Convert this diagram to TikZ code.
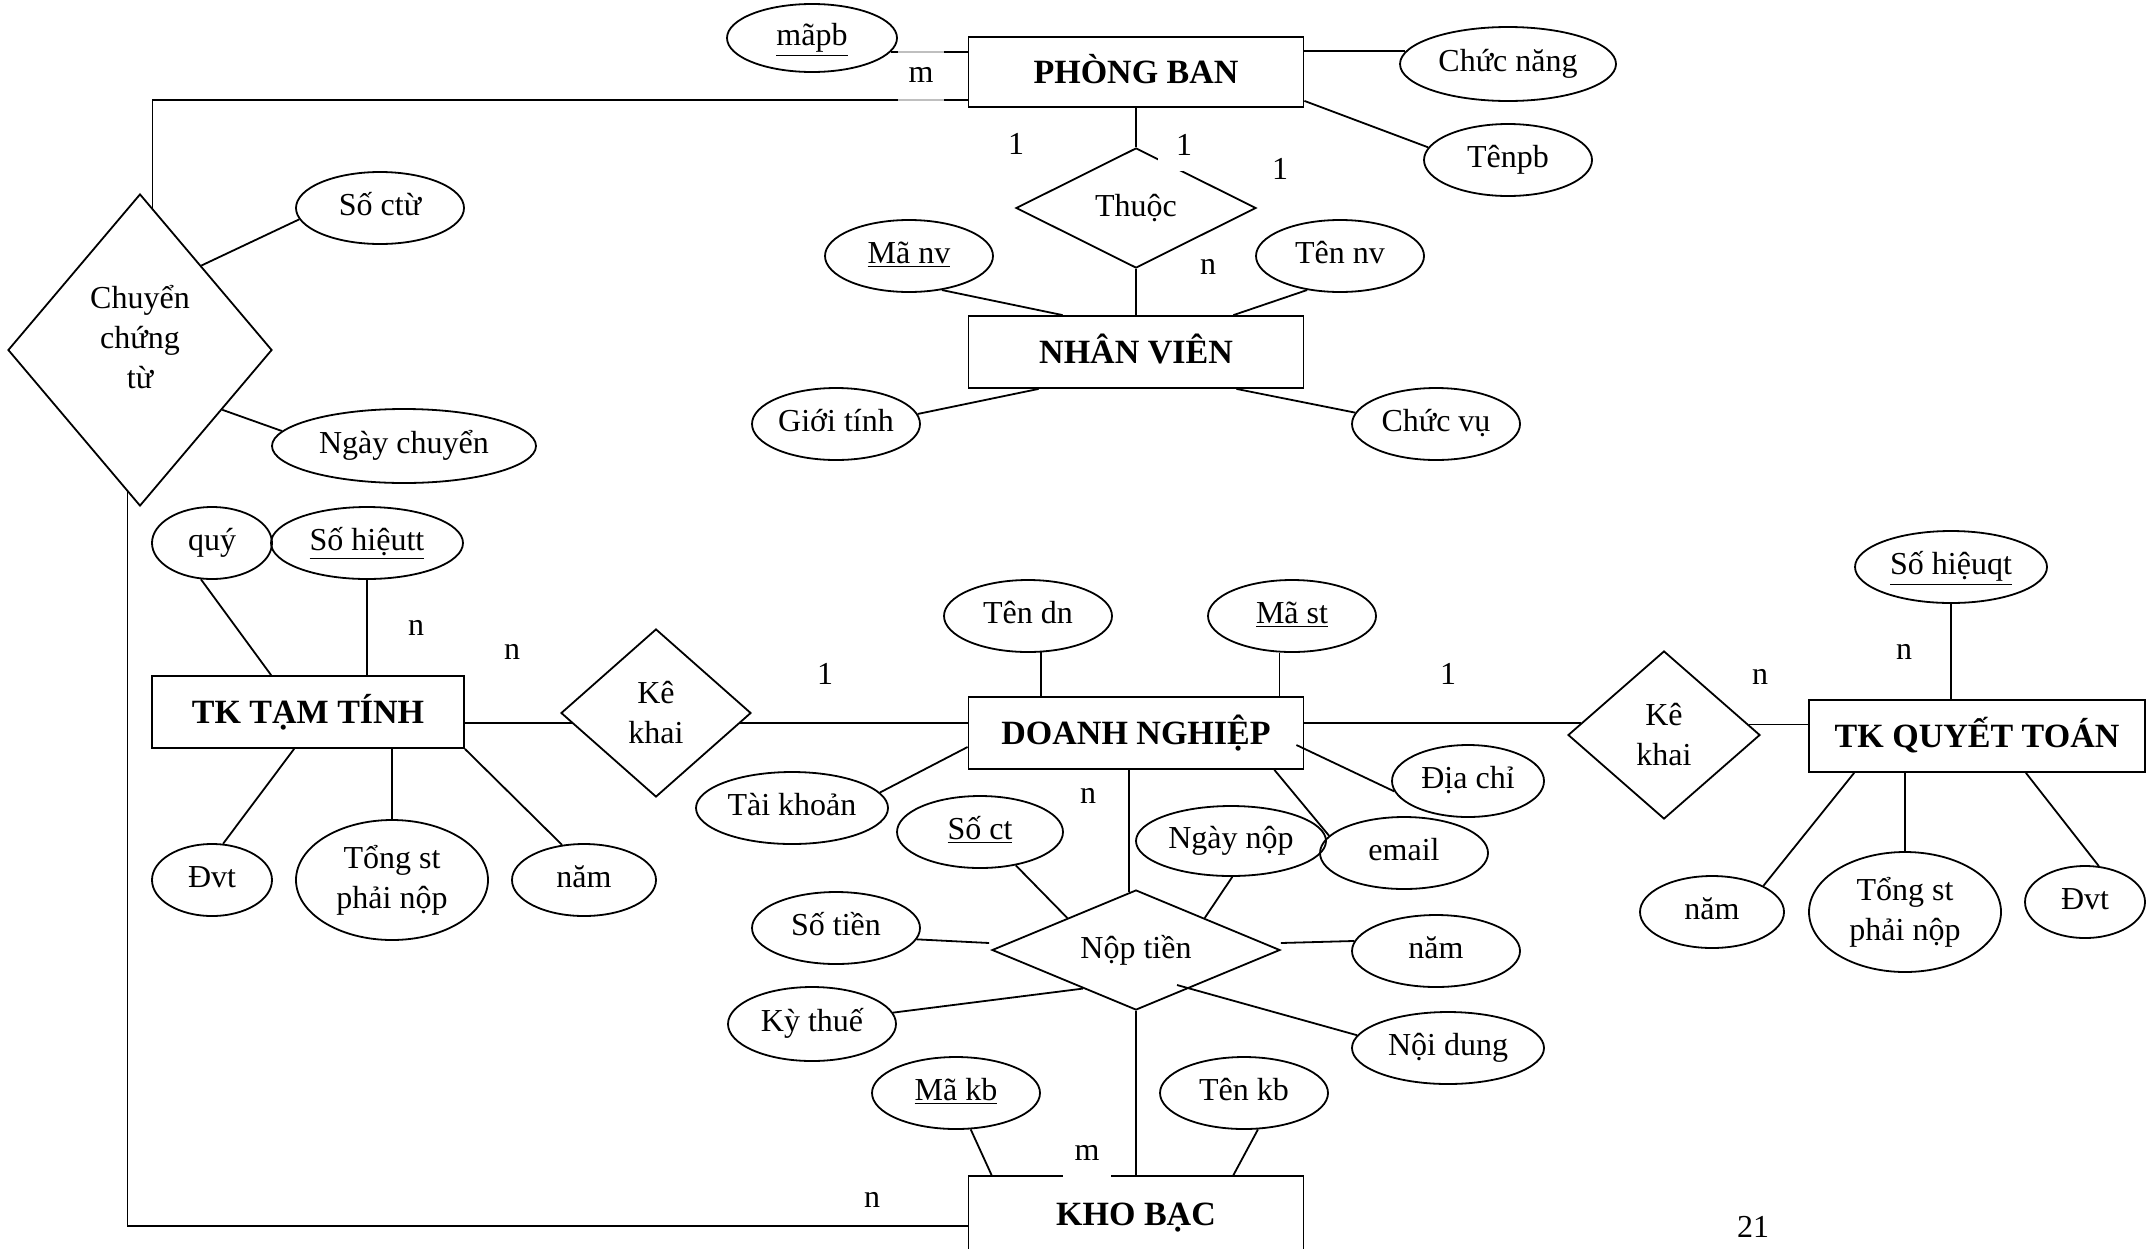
\documentclass[tikz,border=0pt]{standalone}
\usepackage{fontspec}
\setmainfont{Liberation Serif}
\usetikzlibrary{shapes.geometric,calc}
\begin{document}
\begin{tikzpicture}[x=0.5pt,y=-0.5pt,
  every node/.style={font=\fontsize{16}{20}\selectfont},
  lw/.style={line width=0.9pt},
  ent/.style={draw,lw,rectangle,inner sep=0pt,text height=11.3pt,text depth=0pt,font=\fontsize{17}{20}\selectfont\bfseries},
  attr/.style={draw,lw,ellipse,inner sep=0pt,align=center},
  attrone/.style={attr,text height=11pt,text depth=3.5pt},
  rel/.style={draw,lw,diamond,inner sep=0pt,align=center},
  card/.style={inner sep=0pt},
  link/.style={lw}]
\fill[white] (0,0) rectangle (2156,1248);
\useasboundingbox (0,0) rectangle (2156,1248);

% entities
\node[ent, minimum width=167.5pt, minimum height=35pt] (pb) at (1136,72) {PHÒNG BAN};
\node[ent, minimum width=167.5pt, minimum height=36pt] (nv) at (1136,352) {NHÂN VIÊN};
\node[ent, minimum width=167.5pt, minimum height=36pt] (dn) at (1136,733) {DOANH NGHIỆP};
\node[ent, minimum width=167.5pt, minimum height=38pt] (kb) at (1136,1214) {KHO BẠC};
\node[ent, minimum width=156pt, minimum height=36pt] (tkt) at (308,712) {TK TẠM TÍNH};
\node[ent, minimum width=168pt, minimum height=36pt] (tkqt) at (1977,736) {TK QUYẾT TOÁN};

% relationships
\node[rel, minimum width=132pt, minimum height=156pt] (cct) at (140,350) {};
\node[align=center] (cctt) at (140,337) {Chuyển\\chứng\\từ};
\node[rel, aspect=2, minimum width=120pt, minimum height=60pt] (thuoc) at (1136,208) {Thuộc};
\node[rel, minimum width=95pt, minimum height=84pt] (kkl) at (656,713) {Kê\\khai};
\node[rel, minimum width=96pt, minimum height=84pt] (kkr) at (1664,735) {Kê\\khai};
\node[rel, aspect=2.4, minimum width=144pt, minimum height=60pt] (npt) at (1136,950) {Nộp tiền};

% attributes
\node[attrone, minimum width=85pt, minimum height=34pt] (mapb) at (812,38) {\underline{mãpb}};
\node[attrone, minimum width=108pt, minimum height=37pt] (cn) at (1508,64) {Chức năng};
\node[attrone, minimum width=84pt, minimum height=36pt] (tpb) at (1508,160) {Tênpb};
\node[attrone, minimum width=84pt, minimum height=36pt] (manv) at (909,256) {\underline{Mã nv}};
\node[attrone, minimum width=84pt, minimum height=36pt] (tnv) at (1340,256) {Tên nv};
\node[attrone, minimum width=84pt, minimum height=36pt] (gt) at (836,424) {Giới tính};
\node[attrone, minimum width=84pt, minimum height=36pt] (cv) at (1436,424) {Chức vụ};
\node[attrone, minimum width=84pt, minimum height=36pt] (soctu) at (380,208) {Số ctừ};
\node[attrone, minimum width=132pt, minimum height=37pt] (ngc) at (404,446) {Ngày chuyển};
\node[attrone, minimum width=60pt, minimum height=36pt] (quy) at (212,543) {quý};
\node[attrone, minimum width=96pt, minimum height=36pt] (sht) at (367,543) {\underline{Số hiệutt}};
\node[attrone, minimum width=60pt, minimum height=36pt] (dvtl) at (212,880) {Đvt};
\node[attr, minimum width=96pt, minimum height=60pt] (tsl) at (392,880) {Tổng st\\phải nộp};
\node[attrone, minimum width=72pt, minimum height=36pt] (naml) at (584,880) {năm};
\node[attrone, minimum width=84pt, minimum height=36pt] (tdn) at (1028,616) {Tên dn};
\node[attrone, minimum width=84pt, minimum height=36pt] (mst) at (1292,616) {\underline{Mã st}};
\node[attrone, minimum width=96pt, minimum height=36pt] (tk) at (792,808) {Tài khoản};
\node[attrone, minimum width=76pt, minimum height=36pt] (dc) at (1468,781) {Địa chỉ};
\node[attrone, minimum width=84pt, minimum height=36pt] (email) at (1404,853) {email};
\node[attrone, minimum width=95pt, minimum height=35pt] (nn) at (1231,841) {Ngày nộp};
\node[attrone, minimum width=83pt, minimum height=36pt] (soct) at (980,832) {\underline{Số ct}};
\node[attrone, minimum width=84pt, minimum height=36pt] (sotien) at (836,928) {Số tiền};
\node[attrone, minimum width=84pt, minimum height=37pt] (kythue) at (812,1024) {Kỳ thuế};
\node[attrone, minimum width=84pt, minimum height=36pt] (namm) at (1436,951) {năm};
\node[attrone, minimum width=96pt, minimum height=36pt] (nd) at (1448,1048) {Nội dung};
\node[attrone, minimum width=84pt, minimum height=36pt] (makb) at (956,1093) {\underline{Mã kb}};
\node[attrone, minimum width=84pt, minimum height=36pt] (tenkb) at (1244,1093) {Tên kb};
\node[attrone, minimum width=96pt, minimum height=36pt] (shq) at (1951,567) {\underline{Số hiệuqt}};
\node[attrone, minimum width=72pt, minimum height=36pt] (namr) at (1712,912) {năm};
\node[attr, minimum width=96pt, minimum height=60pt] (tsr) at (1905,912) {Tổng st\\phải nộp};
\node[attrone, minimum width=60pt, minimum height=36pt] (dvtr) at (2085,902) {Đvt};

% connectors
\draw[link] (mapb.-10) -- (mapb.-10 -| pb.west);
\draw[link] (cn.173) -- (cn.173 -| pb.east);
\draw[link] ($(pb.south east)+(0,-7)$) -- (tpb.171);
\draw[link] (pb.south) -- (thuoc.north);
\draw[link] (thuoc.south) -- (nv.north);
\draw[link] (manv.-46) -- ($(nv.north west)+(95,0)$);
\draw[link] (tnv.226.6) -- ($(nv.north east)+(-71,0)$);
\draw[link] (gt.7.5) -- ($(nv.south west)+(71,0)$);
\draw[link] (cv.172.5) -- ($(nv.south east)+(-68,0)$);
\draw[link] ($(pb.south west)+(0,-8)$) -| (cct.85.6);
\draw[link] (cct.54.5) -- (soctu.188);
\draw[link] (cct.-36.8) -- (ngc.173);
\draw[link] (cct.265.2) |- ($(kb.north west)+(0,51)$);
\draw[link] (quy.253.4) -- ($(tkt.north west)+(120,0)$);
\draw[link] (sht.south) -- (sht.south |- tkt.north);
\draw[link] (dvtl.73) -- ($(tkt.south west)+(143,0)$);
\draw[link] (tsl.north) -- (tsl.north |- tkt.south);
\draw[link] (naml.122.6) -- (tkt.south east);
\draw[link] (kkl.187.5 -| tkt.east) -- (kkl.187.5);
\draw[link] (kkl.-7.5) -- (kkl.-7.5 -| dn.west);
\draw[link] (kkr.172.5 -| dn.east) -- (kkr.172.5);
\draw[link] (kkr.7.5) -- (kkr.7.5 -| tkqt.west);
\draw[link] (tdn.-70) -- (tdn.-70 |- dn.north);
\draw[link] (mst.251.6) -- (mst.251.6 |- dn.north);
\draw[link] ($(dn.west)+(0,14)$) -- (tk.10.8);
\draw[link] ($(dn.east)+(-8,12)$) -- (dc.188.7);
\draw[link] ($(dn.south east)+(-30,0)$) -- (email.167.7);
\draw[link] (nn.-88) -- (npt.25);
\draw[link] (soct.-43.4) -- (npt.155.8);
\draw[link] ($(dn.south)+(-7,0)$) -- ($(npt.north)+(-7,3)$);
\draw[link] (sotien.-8.9) -- ($(npt.west)+(-2,-7)$);
\draw[link] (kythue.8.8) -- (npt.216.9);
\draw[link] ($(npt.east)+(0,-7)$) -- (namm.173.1);
\draw[link] ($(npt.center)+(41,35)$) -- (nd.172.8);
\draw[link] (npt.south) -- (kb.north);
\draw[link] (makb.-68.2) -- ($(kb.north west)+(24,0)$);
\draw[link] (tenkb.-69.6) -- ($(kb.north east)+(-71,0)$);
\draw[link] (shq.south) -- (shq.south |- tkqt.north);
\draw[link] ($(tkqt.south west)+(46,0)$) -- (namr.27);
\draw[link] (tsr.north) -- (tsr.north |- tkqt.south);
\draw[link] ($(tkqt.south east)+(-120,0)$) -- (dvtr.69.4);

% cardinalities
\node[card] (c1) at (1016,144) {1};
\node[card, fill=white, minimum width=26pt, minimum height=26pt] (c2) at (1184,145) {1};
\node[card] (c3) at (1280,169) {1};
\node[card] (c4) at (1208,267) {n};
\node[card, fill=white, fill opacity=0.75, text opacity=1, minimum width=23pt, minimum height=29pt] (c5) at (921,75) {m};
\node[card] (c6) at (416,628) {n};
\node[card] (c7) at (512,652) {n};
\node[card] (c8) at (825,674) {1};
\node[card] (c9) at (1448,674) {1};
\node[card] (c10) at (1760,677) {n};
\node[card] (c11) at (1904,652) {n};
\node[card] (c12) at (1088,796) {n};
\node[card, fill=white, minimum width=24pt, minimum height=25pt] (c13) at (1087,1153) {m};
\node[card] (c14) at (872,1200) {n};
\node[anchor=north, inner sep=0pt] (pg) at (1753,1216) {21};
\end{tikzpicture}
\end{document}
